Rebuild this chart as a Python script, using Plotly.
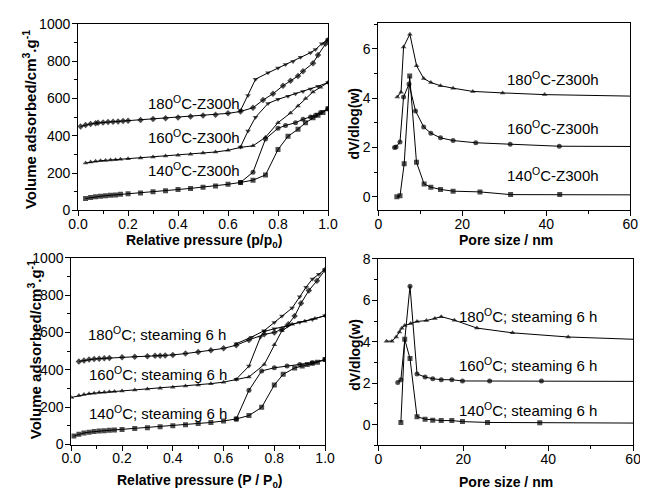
import plotly.graph_objects as go

# figure sits inside the page body (8 px default margin), so it is 8 px smaller
OFF = 8
W, H = 648 - OFF, 497 - OFF

# ---------------- data: top-left isotherms (Z300h) ----------------
p180_ads_a = [0.01, 0.03, 0.05, 0.07, 0.08, 0.10, 0.12, 0.14, 0.16, 0.18, 0.20, 0.25, 0.30, 0.35, 0.40, 0.45, 0.50, 0.55, 0.60, 0.65, 0.70, 0.74, 0.78, 0.82, 0.85, 0.88, 0.90, 0.94, 0.96, 0.99, 1.00]
v180_ads_a = [450, 458, 463, 467, 469, 471, 473, 475, 477, 479, 481, 485, 490, 494, 498, 503, 508, 513, 520, 530, 550, 591, 625, 668, 694, 720, 746, 789, 832, 893, 912]
p180_des_a = [0.65, 0.68, 0.71, 0.76, 0.80, 0.83, 0.86, 0.89, 0.93, 0.95, 0.975, 1.00]
v180_des_a = [535, 615, 703, 737, 763, 782, 798, 820, 845, 862, 893, 915]
p160_ads_a = [0.03, 0.05, 0.07, 0.09, 0.11, 0.13, 0.15, 0.17, 0.20, 0.25, 0.30, 0.35, 0.40, 0.45, 0.50, 0.55, 0.60, 0.65, 0.70, 0.75, 0.80, 0.85, 0.88, 0.91, 0.94, 0.97, 1.00]
v160_ads_a = [254, 259, 263, 266, 268, 270, 272, 274, 277, 281, 286, 291, 296, 301, 307, 313, 322, 338, 346, 392, 470, 522, 560, 600, 635, 660, 685]
p160_des_a = [0.65, 0.68, 0.71, 0.76, 0.80, 0.84, 0.87, 0.90, 0.93, 0.96, 1.00]
v160_des_a = [340, 426, 499, 573, 595, 612, 625, 637, 650, 665, 685]
p140_ads_a = [0.03, 0.05, 0.07, 0.09, 0.11, 0.13, 0.15, 0.17, 0.20, 0.25, 0.30, 0.35, 0.40, 0.45, 0.50, 0.55, 0.60, 0.65, 0.70, 0.75, 0.80, 0.84, 0.88, 0.91, 0.94, 0.96, 0.98, 1.00]
v140_ads_a = [64, 69, 73, 76, 79, 81, 83, 86, 89, 94, 100, 106, 112, 118, 124, 131, 140, 150, 162, 190, 326, 397, 435, 470, 496, 510, 525, 545]
p140_des_a = [0.65, 0.70, 0.75, 0.80, 0.83, 0.87, 0.90, 0.93, 0.95, 0.97, 1.00]
v140_des_a = [150, 205, 383, 440, 455, 470, 488, 500, 510, 525, 545]

# ---------------- data: top-right PSD (Z300h) ----------------
d180_a = [4.5, 5.4, 6.0, 7.5, 9.1, 10.8, 12.5, 14.8, 17.8, 22.5, 29.6, 39.6, 60]
y180_a = [4.04, 4.24, 6.07, 6.59, 5.31, 4.79, 4.63, 4.50, 4.40, 4.27, 4.21, 4.14, 4.08]
d160_a = [3.85, 4.2, 5.15, 6.0, 7.3, 8.85, 10.8, 12.5, 14.8, 17.8, 23.2, 31.4, 43.1, 60]
y160_a = [2.00, 2.02, 2.22, 4.04, 4.57, 3.48, 2.83, 2.58, 2.39, 2.28, 2.19, 2.13, 2.05, 2.04]
d140_a = [4.4, 5.15, 6.15, 7.46, 9.08, 10.9, 12.5, 14.8, 17.8, 24.2, 31.5, 43.2, 60]
y140_a = [0.00, 0.04, 1.34, 4.89, 1.40, 0.52, 0.39, 0.30, 0.23, 0.20, 0.09, 0.09, 0.08]

# ---------------- data: bottom-left isotherms (steaming 6 h) ----------------
p180_ads_b = [0.03, 0.05, 0.07, 0.09, 0.11, 0.13, 0.15, 0.20, 0.25, 0.30, 0.33, 0.35, 0.37, 0.40, 0.45, 0.50, 0.55, 0.60, 0.65, 0.70, 0.76, 0.80, 0.83, 0.855, 0.88, 0.905, 0.936, 0.968, 1.00]
v180_ads_b = [445, 450, 455, 458, 460, 462, 464, 467, 470, 473, 475, 476, 477, 480, 487, 495, 505, 515, 532, 560, 590, 600, 618, 644, 688, 756, 825, 877, 935]
p180_des_b = [0.65, 0.71, 0.76, 0.80, 0.83, 0.87, 0.90, 0.925, 0.95, 0.975, 1.00]
v180_des_b = [540, 575, 610, 653, 688, 731, 791, 843, 886, 912, 938]
p160_ads_b = [0.00, 0.03, 0.05, 0.07, 0.09, 0.11, 0.13, 0.15, 0.17, 0.20, 0.25, 0.30, 0.35, 0.40, 0.45, 0.50, 0.55, 0.60, 0.65, 0.70, 0.76, 0.80, 0.83, 0.87, 0.92, 0.96, 1.00]
v160_ads_b = [252, 262, 268, 272, 275, 278, 280, 282, 284, 287, 292, 297, 302, 307, 313, 319, 326, 334, 348, 362, 428, 535, 610, 644, 660, 675, 690]
p160_des_b = [0.65, 0.70, 0.745, 0.76, 0.80, 0.85, 0.90, 0.95, 1.00]
v160_des_b = [350, 420, 575, 605, 620, 635, 655, 670, 690]
p140_ads_b = [0.01, 0.03, 0.05, 0.07, 0.09, 0.11, 0.13, 0.15, 0.17, 0.20, 0.25, 0.30, 0.35, 0.40, 0.45, 0.50, 0.55, 0.60, 0.65, 0.70, 0.75, 0.80, 0.835, 0.88, 0.91, 0.93, 0.95, 0.97, 1.00]
v140_ads_b = [45, 55, 62, 66, 70, 72, 74, 76, 78, 81, 86, 90, 95, 100, 106, 112, 118, 126, 137, 155, 199, 319, 376, 410, 420, 428, 435, 440, 455]
p140_des_b = [0.65, 0.70, 0.75, 0.80, 0.85, 0.90, 0.95, 1.00]
v140_des_b = [137, 290, 394, 411, 420, 428, 438, 455]

# ---------------- data: bottom-right PSD (steaming 6 h) ----------------
d180_b = [1.9, 3.2, 4.2, 4.95, 5.5, 6.2, 7.6, 9.1, 11.3, 13.3, 14.8, 17.9, 23.2, 31.6, 44.7, 60]
y180_b = [4.03, 4.03, 4.23, 4.47, 4.65, 4.78, 4.88, 4.98, 5.02, 5.12, 5.21, 5.04, 4.66, 4.43, 4.23, 4.12]
d160_b = [4.56, 5.3, 7.45, 9.1, 11.0, 12.8, 14.8, 17.3, 19.8, 26.2, 38.4, 60]
y160_b = [2.03, 2.17, 6.68, 2.45, 2.30, 2.22, 2.17, 2.17, 2.11, 2.11, 2.11, 2.09]
d140_b = [5.3, 6.2, 7.45, 9.1, 11.0, 12.8, 14.8, 17.3, 19.8, 25.7, 38.0, 60]
y140_b = [0.11, 4.12, 3.19, 0.39, 0.27, 0.22, 0.20, 0.20, 0.15, 0.11, 0.09, 0.08]

labels_a = ["180<sup>O</sup>C-Z300h", "160<sup>O</sup>C-Z300h", "140<sup>O</sup>C-Z300h"]
labels_b = ["180<sup>O</sup>C; steaming 6 h", "160<sup>O</sup>C; steaming 6 h", "140<sup>O</sup>C; steaming 6 h"]

FONT = "Liberation Sans, Arial, sans-serif"


def px(x):
    return (x - OFF) / W


def py(y):
    return 1 - (y - OFF) / H


fig = go.Figure()


def add(x, y, sym, xa, ya, last_marker=True):
    n = len(x)
    sizes = [5] * n
    if not last_marker:
        sizes[-1] = 0
    fig.add_trace(go.Scatter(
        x=x, y=y, mode="lines+markers", xaxis=xa, yaxis=ya,
        line=dict(color="black", width=1),
        marker=dict(symbol=sym, size=sizes, color="black", line=dict(width=0)),
        showlegend=False, hoverinfo="skip"))


# top-left
add(p180_ads_a, v180_ads_a, "diamond", "x", "y")
add(p180_des_a, v180_des_a, "triangle-down", "x", "y")
add(p160_ads_a, v160_ads_a, "triangle-up", "x", "y")
add(p160_des_a, v160_des_a, "triangle-down", "x", "y")
add(p140_ads_a, v140_ads_a, "square", "x", "y")
add(p140_des_a, v140_des_a, "circle", "x", "y")
# top-right
add(d180_a, y180_a, "triangle-up", "x2", "y2", False)
add(d160_a, y160_a, "circle", "x2", "y2", False)
add(d140_a, y140_a, "square", "x2", "y2", False)
# bottom-left
add(p180_ads_b, v180_ads_b, "diamond", "x3", "y3")
add(p180_des_b, v180_des_b, "triangle-down", "x3", "y3")
add(p160_ads_b, v160_ads_b, "triangle-up", "x3", "y3")
add(p160_des_b, v160_des_b, "triangle-down", "x3", "y3")
add(p140_ads_b, v140_ads_b, "square", "x3", "y3")
add(p140_des_b, v140_des_b, "circle", "x3", "y3")
# bottom-right
add(d180_b, y180_b, "triangle-up", "x4", "y4", False)
add(d160_b, y160_b, "circle", "x4", "y4", False)
add(d140_b, y140_b, "square", "x4", "y4", False)


def axis(domain, rng, dtick, minor_dtick, anchor, is_x, tickformat=None):
    d = dict(domain=domain, range=rng, dtick=dtick, tick0=0, anchor=anchor,
             showline=True, mirror=True, linecolor="black", linewidth=1,
             ticks="outside", ticklen=5, tickwidth=1, tickcolor="black",
             minor=dict(ticks="outside", ticklen=3, dtick=minor_dtick, tick0=0,
                        tickcolor="black", tickwidth=1),
             showgrid=False, zeroline=False,
             ticklabelstandoff=-4 if is_x else -1,
             tickfont=dict(family=FONT, size=14, color="black"))
    if tickformat:
        d["tickformat"] = tickformat
    return d


fig.update_layout(
    width=W, height=H, margin=dict(l=0, r=0, t=0, b=0),
    paper_bgcolor="white", plot_bgcolor="white",
    xaxis=axis([px(70), px(328)], [0, 1], 0.2, 0.1, "y", True, ".1f"),
    yaxis=axis([py(209), py(16)], [0, 1000], 200, 100, "x", False),
    xaxis2=axis([px(380), px(640)], [0, 60], 20, 10, "y2", True),
    yaxis2=axis([py(209), py(15)], [-0.55, 7.05], 2, 1, "x2", False),
    xaxis3=axis([px(63), px(325)], [0, 1], 0.2, 0.1, "y3", True, ".1f"),
    yaxis3=axis([py(451), py(258)], [0, 1000], 200, 100, "x3", False),
    xaxis4=axis([px(380), px(643)], [0, 60], 20, 10, "y4", True),
    yaxis4=axis([py(452), py(259)], [-1, 8], 2, 1, "x4", False),
)

ann = []


def text(x, y, s, size=15, bold=False, angle=0):
    if bold:
        s = "<b>" + s + "</b>"
    ann.append(dict(x=px(x), y=py(y), xref="paper", yref="paper", text=s,
                    showarrow=False, textangle=angle, xanchor="center", yanchor="middle",
                    font=dict(family=FONT, size=size, color="black")))


# series labels
text(190, 97, labels_a[0])
text(190, 133, labels_a[1])
text(190, 167, labels_a[2])
text(560, 73, labels_a[0])
text(560, 123, labels_a[1])
text(560, 172, labels_a[2])
text(151, 336, labels_b[0])
text(153, 378, labels_b[1])
text(153, 418, labels_b[2])
text(534, 318, labels_b[0])
text(534, 368, labels_b[1])
text(534, 415, labels_b[2])

# axis titles
text(200, 241, "Relative pressure (p/p<sub>0</sub>)", 14, True)
text(512, 240, "Pore size / nm", 14, True)
text(196, 489, "Relative pressure (P / P<sub>0</sub>)", 14, True)
text(512, 490, "Pore size / nm", 14, True)
text(20, 115, "Volume adsorbed/cm<sup>3</sup>.g<sup>-1</sup>", 15, True, -90)
text(355, 119, "dV/dlog(w)", 14, True, -90)
text(25, 353, "Volume adsorbed/cm<sup>3</sup>.g<sup>-1</sup>", 15, True, -90)
text(355, 358, "dV/dlog(w)", 14, True, -90)

fig.update_layout(annotations=ann)
fig.write_html("out.html")
